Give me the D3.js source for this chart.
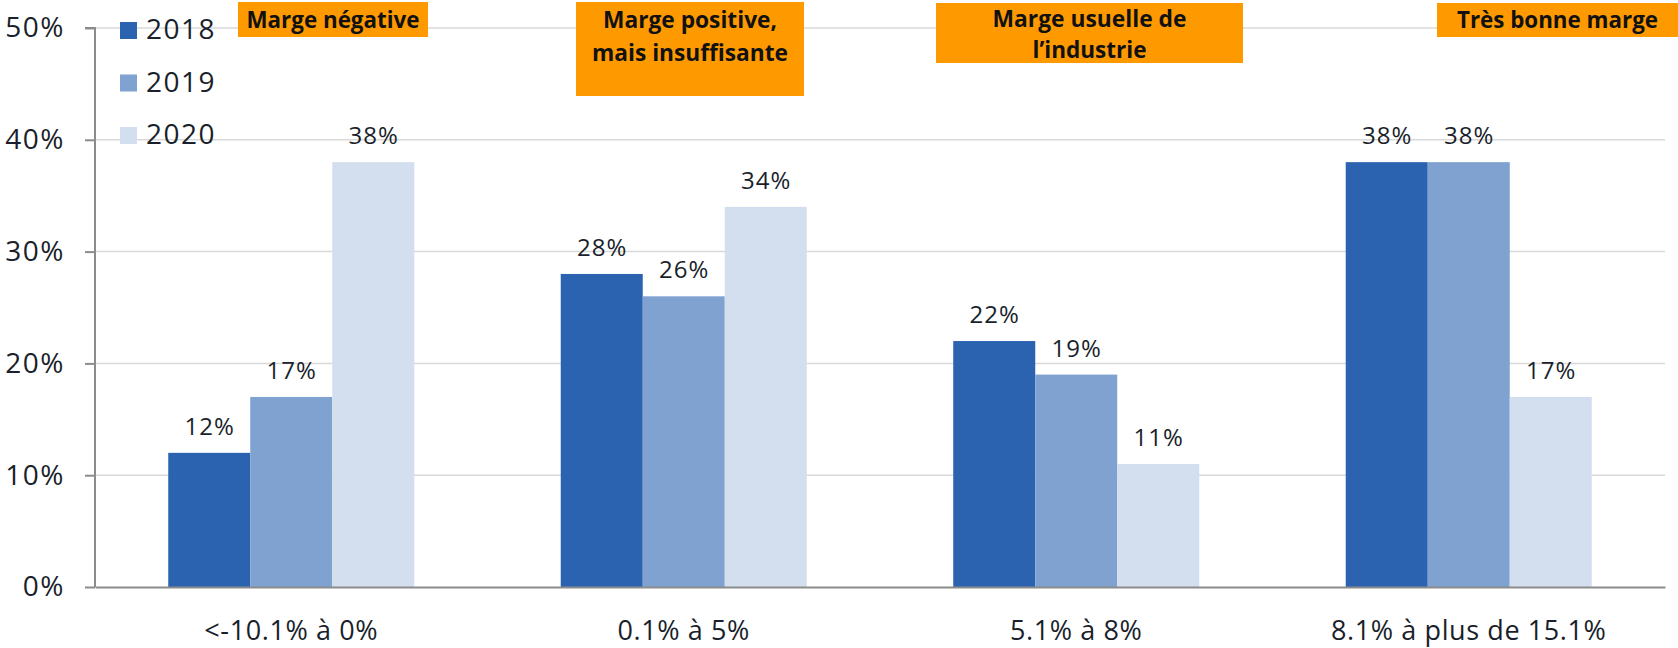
<!DOCTYPE html>
<html><head><meta charset="utf-8">
<script src="https://cdn.jsdelivr.net/npm/d3@7"></script>
<style>body{margin:0;background:#fff} svg{display:block}</style>
</head><body>
<svg id="chart" width="1678" height="648"></svg>
<script>
const categories = ["<-10.1% à 0%", "0.1% à 5%", "5.1% à 8%", "8.1% à plus de 15.1%"];
const series = ["2018", "2019", "2020"];
const values2018 = [12, 28, 22, 38];
const values2019 = [17, 26, 19, 38];
const values2020 = [38, 34, 11, 17];
const yTicks = [0, 10, 20, 30, 40, 50];
const annotationLines = [["Marge négative"], ["Marge positive,", "mais insuffisante"], ["Marge usuelle de", "l’industrie"], ["Très bonne marge"]];

(function () {
const colors = ["#2B63B1", "#7FA2D0", "#D3DFEF"];
const textColor = "#1a1f2b";
const seriesValues = [values2018, values2019, values2020];

const svg = d3.select("#chart");
const pLeft = 95, pRight = 1665, pBottom = 587, pTop = 28;

const x0 = d3.scaleBand().domain(categories).range([pLeft, pRight]).padding(0);
const x1 = d3.scaleBand().domain(series).range([0, x0.step()]).paddingInner(0).paddingOuter(0.893);
const y = d3.scaleLinear().domain([0, 50]).range([pBottom, pTop]);

// gridlines
svg.append("g").selectAll("line").data(yTicks.filter(t => t > 0)).join("line")
  .attr("x1", pLeft).attr("x2", pRight)
  .attr("y1", d => y(d)).attr("y2", d => y(d))
  .attr("stroke", "#d9d9d9").attr("stroke-width", 1.5);

// bars
const groups = svg.append("g").selectAll("g").data(categories).join("g")
  .attr("transform", d => `translate(${x0(d)},0)`);
groups.selectAll("rect").data((d, i) => series.map((s, j) => ({s, j, v: seriesValues[j][i]}))).join("rect")
  .attr("x", d => x1(d.s)).attr("width", x1.bandwidth())
  .attr("y", d => y(d.v)).attr("height", d => pBottom - y(d.v))
  .attr("fill", d => colors[d.j]);
groups.selectAll("text").data((d, i) => series.map((s, j) => ({s, j, v: seriesValues[j][i]}))).join("text")
  .attr("x", d => x1(d.s) + x1.bandwidth() / 2 + 0.5).attr("y", d => y(d.v) - 18)
  .attr("text-anchor", "middle")
  .attr("font-family", "Open Sans").attr("font-size", 24).attr("letter-spacing", 1)
  .attr("fill", textColor)
  .text(d => d.v + "%");

// y axis
const yAxis = svg.append("g").attr("transform", `translate(${pLeft},0)`)
  .call(d3.axisLeft(y).tickValues(yTicks).tickFormat(d => d + "%").tickSize(10).tickPadding(20));
yAxis.select(".domain").attr("stroke", "#8c8c8c").attr("stroke-width", 2).attr("d", `M-10,${pTop}H0V${pBottom}`);
yAxis.selectAll(".tick line").attr("stroke", "#8c8c8c").attr("stroke-width", 2);
yAxis.selectAll(".tick text").attr("font-family", "Open Sans").attr("font-size", 28)
  .attr("letter-spacing", 1.5).attr("fill", textColor);

// x axis
const xAxis = svg.append("g").attr("transform", `translate(0,${pBottom})`)
  .call(d3.axisBottom(x0).tickSize(0).tickPadding(0));
xAxis.select(".domain").attr("stroke", "#8c8c8c").attr("stroke-width", 2);
xAxis.selectAll(".tick text").attr("font-family", "Open Sans").attr("font-size", 27)
  .attr("letter-spacing", 0.6)
  .attr("fill", textColor).attr("dy", null).attr("y", 53);

// legend
const legend = svg.append("g").selectAll("g").data(series).join("g")
  .attr("transform", (d, i) => `translate(120,${22 + i * 52.5})`);
legend.append("rect").attr("width", 17).attr("height", 17).attr("fill", (d, i) => colors[i]);
legend.append("text").attr("x", 26).attr("y", 17).attr("font-family", "Open Sans").attr("font-size", 28)
  .attr("letter-spacing", 1.5)
  .attr("fill", textColor).text(d => d);

// annotation boxes
const boxLayout = [
  {x: 238, y: 2, w: 190, h: 35, base: [28], widths: [173]},
  {x: 576, y: 2, w: 228, h: 94, base: [28, 61], widths: [174, 196]},
  {x: 936, y: 3, w: 307, h: 60, base: [27, 58], widths: [194, 114]},
  {x: 1437, y: 3, w: 241, h: 34, base: [28], widths: [201]}
];
const ann = svg.append("g").selectAll("g").data(annotationLines).join("g");
ann.append("rect")
  .attr("x", (d, i) => boxLayout[i].x).attr("y", (d, i) => boxLayout[i].y)
  .attr("width", (d, i) => boxLayout[i].w).attr("height", (d, i) => boxLayout[i].h)
  .attr("fill", "#FF9900");
ann.each(function (lines, i) {
  const b = boxLayout[i];
  d3.select(this).selectAll("text").data(lines).join("text")
    .attr("x", b.x + b.w / 2).attr("y", (d, k) => b.base[k])
    .attr("text-anchor", "middle")
    .attr("font-family", "Open Sans").attr("font-weight", 700).attr("font-size", 24)
    .attr("fill", "#111")
    .attr("textLength", (d, k) => b.widths[k]).attr("lengthAdjust", "spacingAndGlyphs")
    .text(d => d);
});
})();
</script>
</body></html>
